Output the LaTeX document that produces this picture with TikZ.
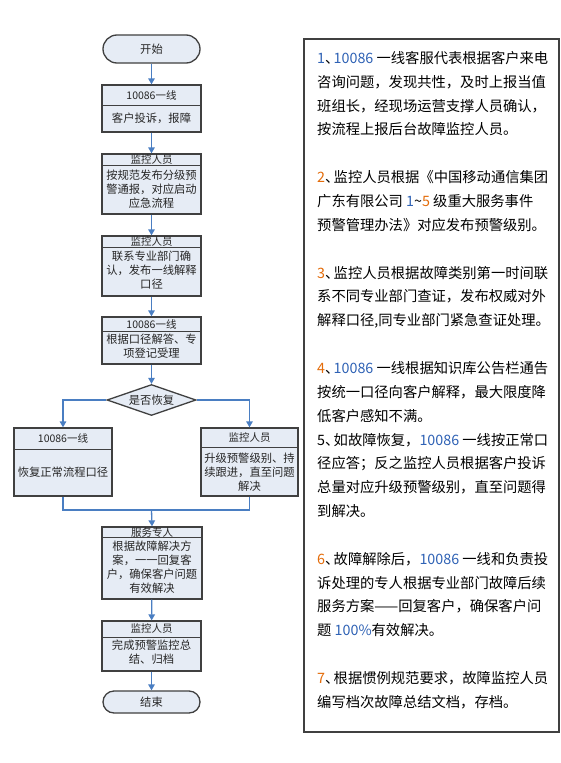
\documentclass[tikz,border=0pt]{standalone}
\usepackage{fontspec}
\setmainfont{Noto Sans CJK SC}
\usetikzlibrary{arrows.meta,shapes.geometric}
\definecolor{bfill}{HTML}{E6ECF5}
\definecolor{bline}{HTML}{404040}
\definecolor{arrc}{HTML}{4A7EC2}
\definecolor{numor}{HTML}{E46C0A}
\definecolor{numbl}{HTML}{2F62B5}
\definecolor{txt}{HTML}{262626}
\newcommand{\nor}[1]{\textcolor{numor}{#1}}
\newcommand{\nbl}[1]{\textcolor{numbl}{#1}}
\newcommand{\dun}{\makebox[0.6em][l]{、}}
\begin{document}
\begin{tikzpicture}[x=1pt,y=-1pt,
  box/.style={draw=bline,fill=bfill,line width=1.3pt,inner sep=0pt,minimum width=99pt},
  term/.style={box,minimum width=97pt,rounded corners=#1,font=\fontsize{11.3}{14}\selectfont,text=txt},
  divl/.style={draw=bline,line width=1pt},
  head/.style={inner sep=0pt,font=\fontsize{10.5}{12}\selectfont,text=txt},
  body/.style={inner sep=0pt,align=center,font=\fontsize{11.3}{14}\selectfont,text=txt},
  arr/.style={draw=arrc,line width=1.3pt,-{Triangle[length=6pt,width=6.5pt]}},
  conn/.style={draw=arrc,line width=1.3pt},
  rtext/.style={anchor=base west,inner sep=0pt,font=\fontsize{14.3}{16}\selectfont,text=black},
  ]
\path[fill=white,use as bounding box] (0,0) rectangle (560,763);

% ---------- flowchart ----------
\node[term=14pt,minimum height=28pt] (start) at (151.5,49) {开始};

\node[box,minimum height=47pt] (b1) at (151.5,108.5) {};
\draw[divl] (b1.west |- 0,105) -- (b1.east |- 0,105);
\node[head] (b1h) at (151.5,95) {10086一线};
\node[body] (b1t) at (151.5,118.5) {客户投诉，报障};

\node[box,minimum height=60pt] (b2) at (151.5,184) {};
\draw[divl] (b2.west |- 0,165) -- (b2.east |- 0,165);
\node[head] (b2h) at (151.5,159.5) {监控人员};
\node[body] (b2t) at (151.5,189) {按规范发布分级预\\警通报，对应启动\\应急流程};

\node[box,minimum height=60pt] (b3) at (151.5,266) {};
\draw[divl] (b3.west |- 0,247) -- (b3.east |- 0,247);
\node[head] (b3h) at (151.5,241.5) {监控人员};
\node[body] (b3t) at (151.5,270.5) {联系专业部门确\\认，发布一线解释\\口径};

\node[box,minimum height=47pt] (b4) at (151.5,340.5) {};
\draw[divl] (b4.west |- 0,331) -- (b4.east |- 0,331);
\node[head] (b4h) at (151.5,324) {10086一线};
\node[body] (b4t) at (151.5,346) {根据口径解答、专\\项登记受理};

\node[draw=bline,fill=bfill,line width=1.3pt,diamond,aspect=2.87,inner sep=0pt,
      minimum width=89pt,minimum height=31pt,font=\fontsize{11.3}{14}\selectfont,text=txt] (d) at (151.5,400) {是否恢复};

\node[box,minimum width=98pt,minimum height=68pt] (lb) at (63,462) {};
\draw[divl] (lb.west |- 0,449) -- (lb.east |- 0,449);
\node[head] (lbh) at (63,438.5) {10086一线};
\node[body] (lbt) at (63,472) {恢复正常流程口径};

\node[box,minimum width=97pt,minimum height=68pt] (rb) at (249.5,462) {};
\draw[divl] (rb.west |- 0,447) -- (rb.east |- 0,447);
\node[head] (rbh) at (249.5,437.5) {监控人员};
\node[body] (rbt) at (249.5,472) {升级预警级别、持\\续跟进，直至问题\\解决};

\node[box,minimum width=100pt,minimum height=72pt] (b5) at (152,563) {};
\draw[divl] (b5.west |- 0,537) -- (b5.east |- 0,537);
\node[head] (b5h) at (152,532) {服务专人};
\node[body] (b5t) at (152,567) {根据故障解决方\\案，一一回复客\\户，确保客户问题\\有效解决};

\node[box,minimum height=50pt] (b6) at (151.5,646) {};
\draw[divl] (b6.west |- 0,637) -- (b6.east |- 0,637);
\node[head] (b6h) at (151.5,629) {监控人员};
\node[body] (b6t) at (151.5,652.5) {完成预警监控总\\结、归档};

\node[term=11pt,minimum height=22pt] (end) at (151.5,702) {结束};

% connectors
\draw[arr] (start) -- (b1);
\draw[arr] (b1) -- (b2);
\draw[arr] (b2) -- (b3);
\draw[arr] (b3) -- (b4);
\draw[arr] (b4) -- (d);
\draw[arr] (d.west) -| (lb.north);
\draw[arr] (d.east) -| (rb.north);
\coordinate (m) at (151.5,510);
\draw[conn] (lb.south) |- (m);
\draw[conn] (rb.south) |- (m);
\draw[arr] (m) -- (b5.north);
\draw[arr] (b5) -- (b6);
\draw[arr] (b6) -- (end);

% ---------- notes ----------
\node[draw=bline,line width=1.2pt,inner sep=0pt,minimum width=255pt,minimum height=693pt] (notes) at (431.5,385.5) {};
\node[rtext] (n1a) at (317,63.4)  {\nbl{1}\dun\nbl{10086} 一线客服代表根据客户来电};
\node[rtext] (n1b) at (317,87.25) {咨询问题，发现共性，及时上报当值};
\node[rtext] (n1c) at (317,111.1) {班组长，经现场运营支撑人员确认，};
\node[rtext] (n1d) at (317,134.95){按流程上报后台故障监控人员。};
\node[rtext] (n2a) at (317,182.65){\nor{2}\dun 监控人员根据《中国移动通信集团};
\node[rtext] (n2b) at (317,206.5) {广东有限公司 \nbl{1}\textasciitilde\nor{5} 级重大服务事件};
\node[rtext] (n2c) at (317,230.35){预警管理办法》对应发布预警级别。};
\node[rtext] (n3a) at (317,278.05){\nor{3}\dun 监控人员根据故障类别第一时间联};
\node[rtext] (n3b) at (317,301.9) {系不同专业部门查证，发布权威对外};
\node[rtext] (n3c) at (317,325.75){解释口径,同专业部门紧急查证处理。};
\node[rtext] (n4a) at (317,373.45){\nor{4}\dun\nbl{10086} 一线根据知识库公告栏通告};
\node[rtext] (n4b) at (317,397.3) {按统一口径向客户解释，最大限度降};
\node[rtext] (n4c) at (317,421.15){低客户感知不满。};
\node[rtext] (n5a) at (317,445.0) {5\dun 如故障恢复，\nbl{10086} 一线按正常口};
\node[rtext] (n5b) at (317,468.85){径应答；反之监控人员根据客户投诉};
\node[rtext] (n5c) at (317,492.7) {总量对应升级预警级别，直至问题得};
\node[rtext] (n5d) at (317,516.55){到解决。};
\node[rtext] (n6a) at (317,564.25){\nor{6}\dun 故障解除后，\nbl{10086} 一线和负责投};
\node[rtext] (n6b) at (317,588.1) {诉处理的专人根据专业部门故障后续};
\node[rtext] (n6c) at (317,611.95){服务方案——回复客户，确保客户问};
\node[rtext] (n6d) at (317,635.8) {题 \nbl{100\%}有效解决。};
\node[rtext] (n7a) at (317,683.5) {\nor{7}\dun 根据惯例规范要求，故障监控人员};
\node[rtext] (n7b) at (317,707.35){编写档次故障总结文档，存档。};
\end{tikzpicture}
\end{document}
